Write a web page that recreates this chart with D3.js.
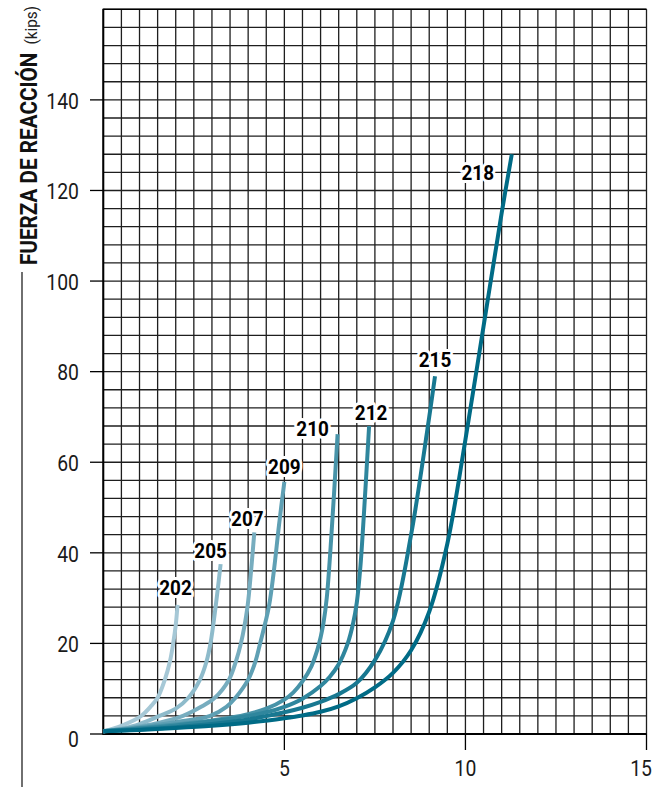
<!DOCTYPE html>
<html>
<head>
<meta charset="utf-8">
<script src="https://cdn.jsdelivr.net/npm/d3@7"></script>
<style>
  body { margin: 0; background: #fff; }
  text { font-family: "Liberation Sans Narrow", "Roboto", sans-serif; }
</style>
</head>
<body>
<script>
// chart of reaction force vs deflection, one curve per model

//data
var models = ["202", "205", "207", "209", "210", "212", "215", "218"];

var curve202 = [[0,0.6],[0.5,1.8],[1.05,4],[1.3,6],[1.5,8],[1.7,12],[1.84,16],[1.93,20],[2.0,24],[2.05,28.5]];
var curve205 = [[0,0.6],[0.5,1.2],[1.0,2.2],[1.55,4],[2.0,5.6],[2.35,8],[2.67,12],[2.85,16],[2.96,20],[3.1,28],[3.24,37.5]];
var curve207 = [[0,0.6],[0.5,1.1],[1.0,1.7],[1.5,2.4],[2.2,4],[2.7,6],[3.08,8],[3.47,12],[3.66,16],[3.8,20],[3.98,28],[4.08,36],[4.17,44.5]];
var curve209 = [[0,0.6],[1.0,1.5],[2.0,2.6],[2.95,4],[3.4,6],[3.65,8],[4.0,12],[4.2,16],[4.33,20],[4.57,28],[4.71,36],[4.85,46],[5.0,55.7]];
var curve210 = [[0,0.6],[1,1.3],[2,2.1],[3,3.0],[3.5,3.6],[4,4.4],[4.5,5.6],[5,7.6],[5.25,9.2],[5.5,11.6],[5.75,15],[5.9,18.3],[6.0,21.3],[6.08,24.5],[6.17,30],[6.3,44],[6.47,66.2]];
var curve212 = [[0,0.6],[1,1.2],[2,1.9],[3,2.8],[4,4.0],[4.5,4.8],[5,6.0],[5.5,7.8],[6,10.6],[6.25,12.6],[6.5,15.4],[6.75,20],[6.9,24.5],[7.0,29],[7.1,37],[7.2,49],[7.34,68]];
var curve215 = [[0,0.6],[1,1.0],[2,1.5],[3,2.2],[4,3.2],[5,4.8],[5.5,5.8],[6,7.1],[6.5,8.8],[7,11.3],[7.5,16.3],[8,25],[8.5,44],[9,70],[9.16,79]];
var curve218 = [[0,0.6],[1,0.9],[2,1.3],[3,1.8],[4,2.5],[5,3.5],[5.5,4.1],[6,4.9],[6.5,6.1],[7,7.9],[7.5,10.3],[8,13.5],[8.5,18.5],[9,27],[9.5,42],[10,65],[10.5,90],[11,115],[11.28,128]];

var allCurves = [curve202, curve205, curve207, curve209, curve210, curve212, curve215, curve218];

var yTicks = [0, 20, 40, 60, 80, 100, 120, 140];
var xTicks = [5, 10, 15];

(function(){

//label offsets (px) from the top end of each curve
var labelOffsets = [[-2,-17],[-10,-14],[-7,-14],[0,-15],[-25,-6],[2,-14],[0,-17],[-34,18]];

var width = 652, height = 787;
var plotLeft = 103.3, plotRight = 646.5, plotTop = 9.3, plotBottom = 734;

var svg = d3.select("body").append("svg")
    .attr("width", width)
    .attr("height", height);

var x = d3.scaleLinear().domain([0, 15]).range([plotLeft, plotRight]);
var y = d3.scaleLinear().domain([0, 160]).range([plotBottom, plotTop]);

//grid
var grid = svg.append("g").attr("class", "grid");
grid.selectAll(".vline")
    .data(d3.range(0, 15.01, 0.5))
    .enter().append("line")
    .attr("class", "vline")
    .attr("x1", function(d){ return x(d); })
    .attr("x2", function(d){ return x(d); })
    .attr("y1", plotTop)
    .attr("y2", plotBottom)
    .attr("stroke", "#1e1e1e")
    .attr("stroke-width", 1.3);
grid.selectAll(".hline")
    .data(d3.range(0, 160.01, 4))
    .enter().append("line")
    .attr("class", "hline")
    .attr("x1", plotLeft)
    .attr("x2", plotRight)
    .attr("y1", function(d){ return y(d); })
    .attr("y2", function(d){ return y(d); })
    .attr("stroke", "#1e1e1e")
    .attr("stroke-width", 1.3);

//heavier frame on left / bottom / top
svg.append("line").attr("x1", plotLeft).attr("x2", plotLeft).attr("y1", plotTop - 0.5).attr("y2", plotBottom + 1)
    .attr("stroke", "#000").attr("stroke-width", 2);
svg.append("line").attr("x1", plotLeft).attr("x2", plotRight).attr("y1", plotBottom).attr("y2", plotBottom)
    .attr("stroke", "#000").attr("stroke-width", 2);
svg.append("line").attr("x1", plotLeft).attr("x2", plotRight).attr("y1", plotTop).attr("y2", plotTop)
    .attr("stroke", "#000").attr("stroke-width", 1.6);

//y axis ticks + labels
var yAxis = svg.append("g");
yAxis.selectAll("line")
    .data(yTicks)
    .enter().append("line")
    .attr("x1", 90).attr("x2", plotLeft)
    .attr("y1", function(d){ return y(d); })
    .attr("y2", function(d){ return y(d); })
    .attr("stroke", "#000").attr("stroke-width", 1.3);
yAxis.selectAll("text")
    .data(yTicks)
    .enter().append("text")
    .attr("transform", function(d){ return "translate(79," + (y(d) + (d === 0 ? 5 : 1)) + ") scale(0.88,1)"; })
    .attr("dy", "0.35em")
    .attr("text-anchor", "end")
    .attr("font-size", 22)
    .attr("fill", "#1a1a1a")
    .text(function(d){ return d; });

//x axis ticks + labels
var xAxis = svg.append("g");
xAxis.selectAll("line")
    .data(xTicks)
    .enter().append("line")
    .attr("x1", function(d){ return x(d); })
    .attr("x2", function(d){ return x(d); })
    .attr("y1", plotBottom).attr("y2", 750)
    .attr("stroke", "#000").attr("stroke-width", 1.3);
xAxis.selectAll("text")
    .data(xTicks)
    .enter().append("text")
    .attr("transform", function(d){ return "translate(" + (d === 15 ? 652 : x(d)) + ",776) scale(0.88,1)"; })
    .attr("text-anchor", function(d){ return d === 15 ? "end" : "middle"; })
    .attr("font-size", 22)
    .attr("fill", "#1a1a1a")
    .text(function(d){ return d; });

//axis title (rotated, squeezed to look condensed)
var title = svg.append("text")
    .attr("transform", "translate(37,6) rotate(-90) scale(0.9,1)")
    .attr("text-anchor", "end");
title.append("tspan")
    .attr("font-weight", "bold")
    .attr("font-size", 23)
    .attr("fill", "#111")
    .text("FUERZA DE REACCIÓN");
title.append("tspan")
    .attr("font-size", 17)
    .attr("fill", "#222")
    .attr("dx", 9)
    .text("(kips)");

svg.append("line")
    .attr("x1", 22).attr("x2", 22)
    .attr("y1", 272).attr("y2", height)
    .attr("stroke", "#222").attr("stroke-width", 1.3);

//curves
var color = d3.scaleLinear()
    .domain([0, models.length - 1])
    .range(["#a6c8d6", "#006b86"])
    .interpolate(d3.interpolateRgb);

var line = d3.line()
    .x(function(d){ return x(d[0]); })
    .y(function(d){ return y(d[1]); })
    .curve(d3.curveCatmullRom.alpha(0.5));

svg.append("g").selectAll("path")
    .data(allCurves)
    .enter().append("path")
    .attr("d", line)
    .attr("fill", "none")
    .attr("stroke", function(d, i){ return color(i); })
    .attr("stroke-width", 4);

//labels with white halo
svg.append("g").selectAll("text")
    .data(models)
    .enter().append("text")
    .attr("transform", function(d, i){
        var p = allCurves[i][allCurves[i].length - 1];
        return "translate(" + (x(p[0]) + labelOffsets[i][0]) + "," + (y(p[1]) + labelOffsets[i][1]) + ") scale(0.9,1)";
    })
    .attr("dy", "0.36em")
    .attr("text-anchor", "middle")
    .attr("font-weight", "bold")
    .attr("font-size", 21)
    .attr("fill", "#000")
    .attr("stroke", "#fff")
    .attr("stroke-width", 6)
    .attr("stroke-linejoin", "round")
    .attr("paint-order", "stroke")
    .text(function(d){ return d; });

})();
</script>
</body>
</html>
